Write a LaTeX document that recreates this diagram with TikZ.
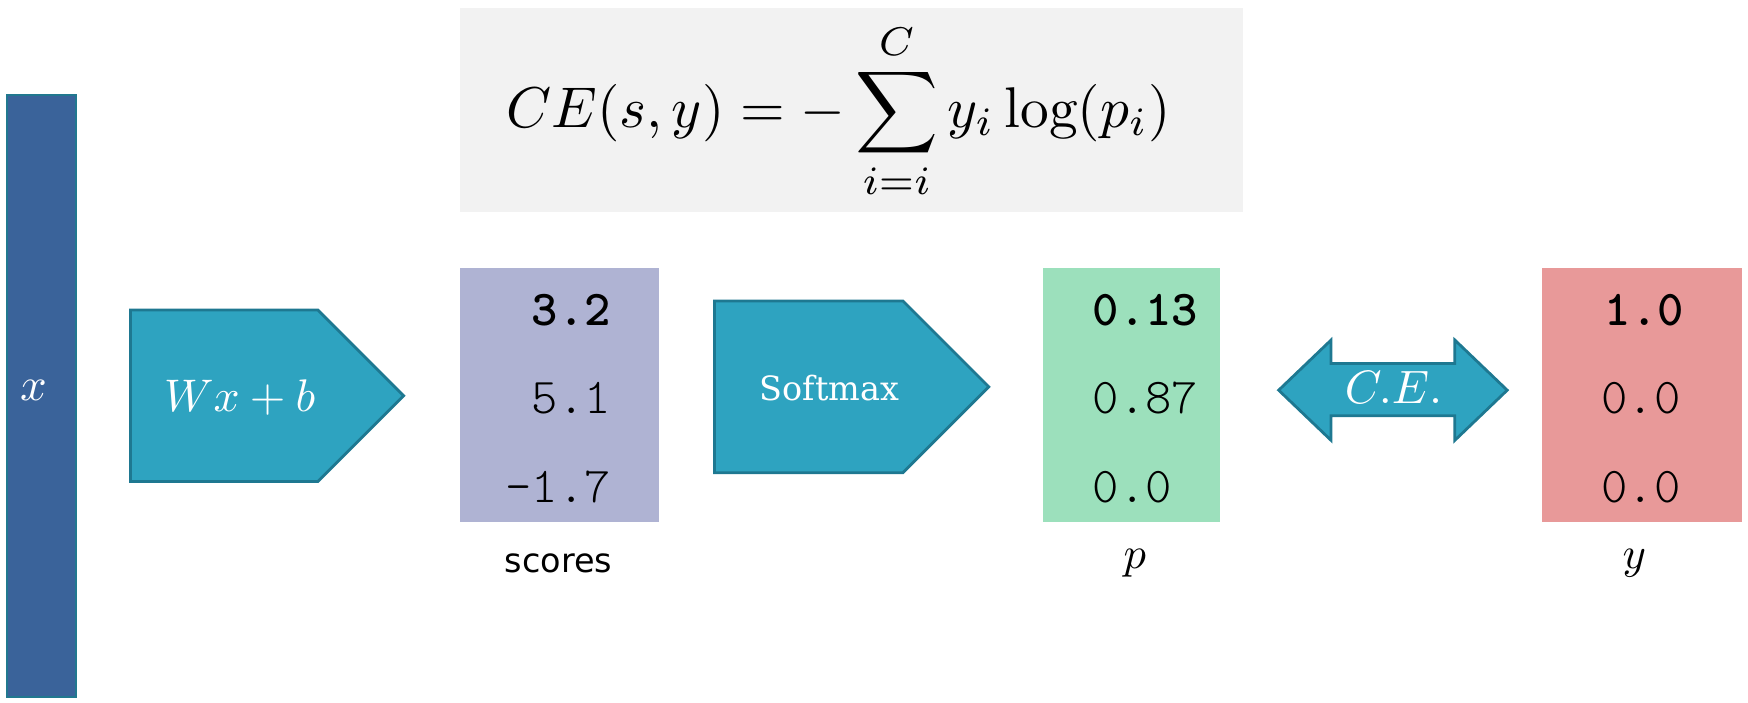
\documentclass[tikz,border=0pt]{standalone}
\usepackage{amsmath}
\usepackage{fontspec}
\setmonofont{Liberation Mono}
\newfontfamily\numlight{Latin Modern Mono Light}
\newfontfamily\dvserif{DejaVu Serif}
\newfontfamily\labsans{DejaVu Sans}
\definecolor{xbarfill}{RGB}{58,99,154}
\definecolor{xbaredge}{RGB}{33,120,143}
\definecolor{arrfill}{RGB}{46,163,192}
\definecolor{arredge}{RGB}{30,120,145}
\definecolor{formbg}{RGB}{242,242,242}
\definecolor{scorefill}{RGB}{175,179,211}
\definecolor{pfill}{RGB}{156,224,188}
\definecolor{yfill}{RGB}{232,153,153}
\tikzset{
  tealshape/.style={fill=arrfill, draw=arredge, line width=2.5pt, line join=miter},
  mathtxt/.style={inner sep=0pt, transform shape},
  numtxt/.style={inner sep=0pt, font=\fontsize{45}{45}\selectfont\numlight},
  boldnum/.style={inner sep=0pt, font=\fontsize{45}{45}\selectfont\numlight\bfseries},
}
\begin{document}
\begin{tikzpicture}[x=1pt,y=-1pt]
\useasboundingbox (0,0) rectangle (1568,630);
% x bar
\path[fill=xbarfill, draw=xbaredge, line width=1.5pt] (6,85) rectangle (68,625);
\begin{scope}[scale=4.2]
\node[mathtxt, text=white] (xlab) at (30/4.2,350/4.2) {$x$};
\end{scope}
% formula box
\path[fill=formbg] (413,7) rectangle (1115,190);
\begin{scope}[scale=5.15]
\node[mathtxt] (formula) at (752/5.15,100/5.15) {$\displaystyle CE(s,y) = -\sum_{i=i}^{C} y_i \log(p_i)$};
\end{scope}
% Wx+b arrow
\path[tealshape] (117,278) -- (285,278) -- (362,355) -- (285,432) -- (117,432) -- cycle;
\begin{scope}[scale=4.1]
\node[mathtxt, text=white] (wxb) at (215/4.1,357/4.1) {$Wx+b$};
\end{scope}
% scores box
\path[fill=scorefill] (413,240) rectangle (591,468);
\node[boldnum, anchor=east] (s1) at (548,278) {3.2};
\node[numtxt, anchor=east] (s2) at (548,357) {5.1};
\node[numtxt, anchor=east] (s3) at (548,437) {-1.7};
\node[inner sep=0pt, font=\fontsize{30}{30}\selectfont\labsans] (scores) at (501,505) {scores};
% Softmax arrow
\path[tealshape] (641,270) -- (810,270) -- (887,347) -- (810,424) -- (641,424) -- cycle;
\node[inner sep=0pt, text=white, font=\fontsize{30}{30}\selectfont\dvserif] (soft) at (744,348) {Softmax};
% p box
\path[fill=pfill] (936,240) rectangle (1094,468);
\node[boldnum, anchor=west] (p1) at (980,278) {0.13};
\node[numtxt, anchor=west] (p2) at (980,357) {0.87};
\node[numtxt, anchor=west] (p3) at (980,437) {0.0};
\begin{scope}[scale=4.0]
\node[mathtxt] (plab) at (1018/4.0,505/4.0) {$p$};
\end{scope}
% C.E. double arrow
\path[tealshape] (1147,350) -- (1194,305) -- (1194,326) -- (1305,326) -- (1305,305) -- (1352,350)
  -- (1305,395) -- (1305,373) -- (1194,373) -- (1194,395) -- cycle;
\begin{scope}[scale=4.2]
\node[mathtxt, text=white] (ce) at (1250/4.2,348/4.2) {$C.E.$};
\end{scope}
% y box
\path[fill=yfill] (1383,240) rectangle (1563,468);
\node[boldnum] (y1) at (1475,278) {1.0};
\node[numtxt] (y2) at (1472,357) {0.0};
\node[numtxt] (y3) at (1472,437) {0.0};
\begin{scope}[scale=4.0]
\node[mathtxt] (ylab) at (1466/4.0,505/4.0) {$y$};
\end{scope}
\end{tikzpicture}
\end{document}
